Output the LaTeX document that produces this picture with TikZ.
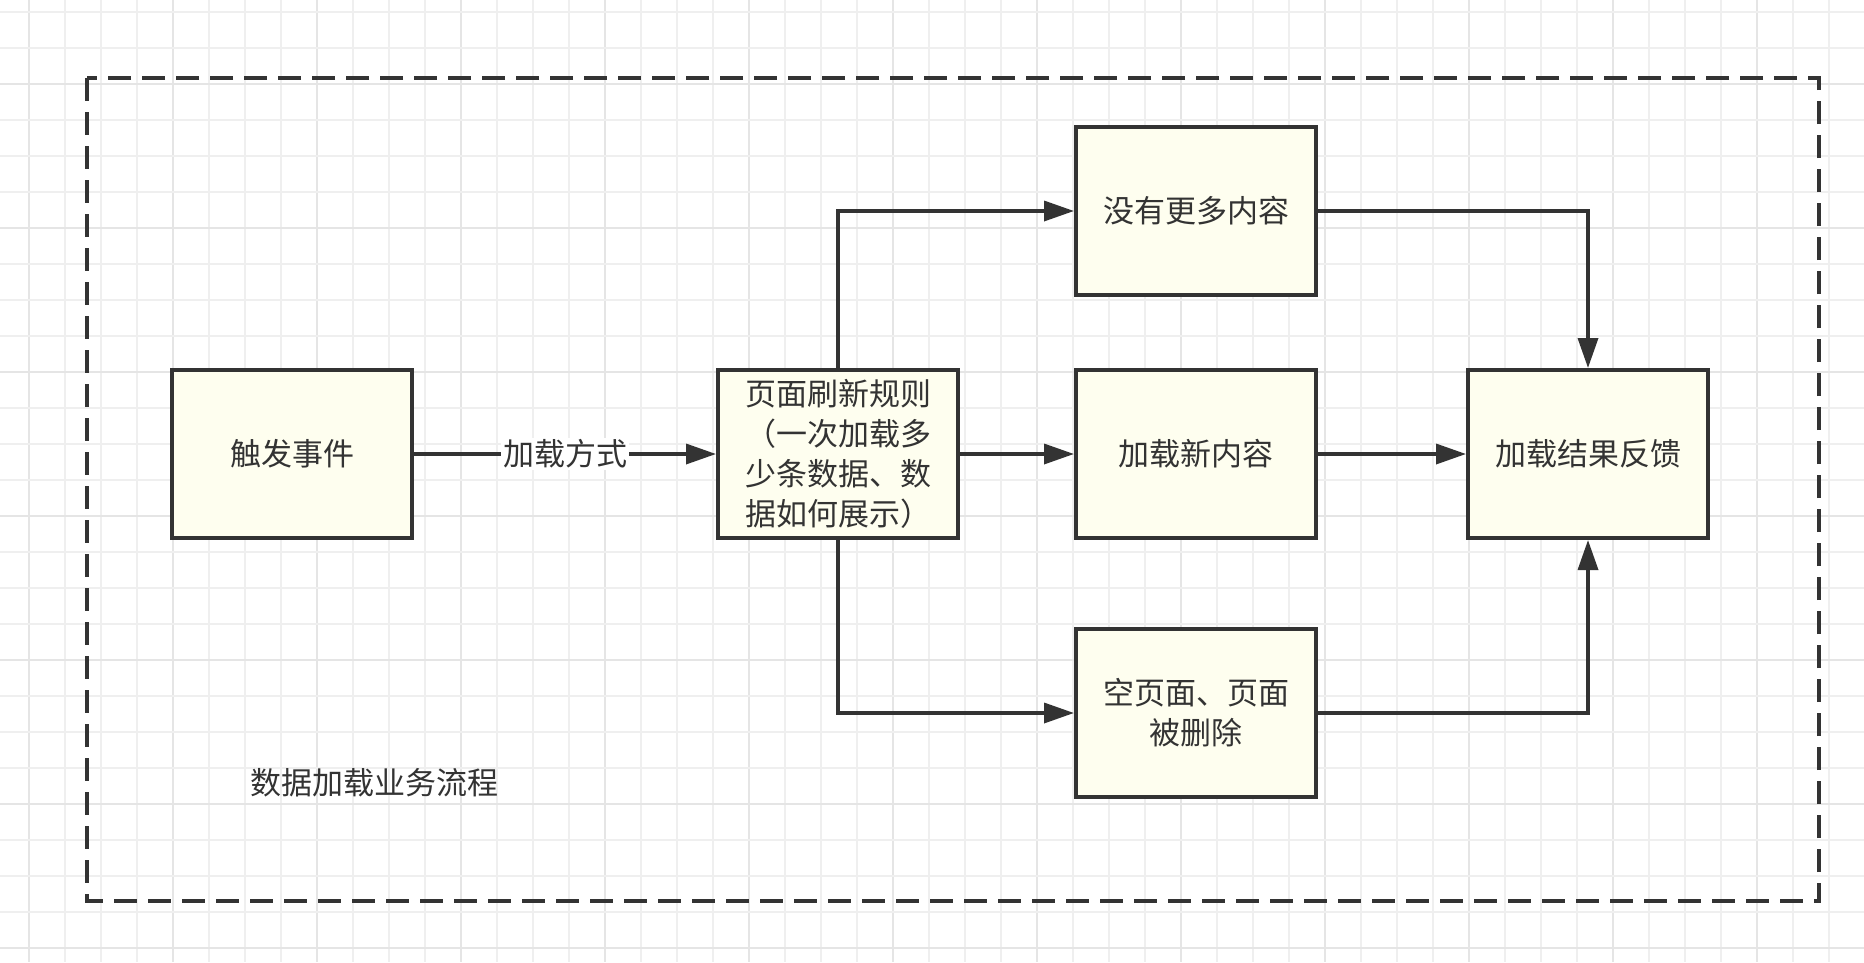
\documentclass[tikz,border=0pt]{standalone}
\usepackage{fontspec}
\newfontfamily\cjk{Noto Sans CJK SC}
\usetikzlibrary{arrows.meta}
\definecolor{ink}{HTML}{333333}
\definecolor{boxfill}{HTML}{FEFEEF}
\definecolor{gridminor}{HTML}{EFEFEF}
\definecolor{gridmajor}{HTML}{E5E5E5}
\tikzset{
  box/.style={draw=ink, line width=4pt, fill=boxfill, minimum width=240pt, minimum height=168pt,
    align=center, text=ink, font=\cjk\fontsize{31pt}{40pt}\selectfont, inner sep=0pt},
  arr/.style={draw=ink, line width=3.5pt, -{Triangle[length=30pt,width=20pt]}},
  lbl/.style={fill=white, text=ink, font=\cjk\fontsize{31pt}{40pt}\selectfont, inner sep=2pt},
  frame/.style={draw=ink, line width=4pt, dash pattern=on 23pt off 11pt},
}
\begin{document}
\begin{tikzpicture}[x=1pt,y=-1pt]
\useasboundingbox (0,0) rectangle (1864,962);
\fill[white] (0,0) rectangle (1864,962);
\foreach \k in {0,...,51} {
  \pgfmathtruncatemacro{\m}{mod(\k,4)}
  \ifnum\m=0 \draw[gridmajor, line width=2pt] ({29+36*\k},0) -- ({29+36*\k},962);
  \else \draw[gridminor, line width=1.8pt] ({29+36*\k},0) -- ({29+36*\k},962); \fi
}
\foreach \k in {0,...,26} {
  \pgfmathtruncatemacro{\m}{mod(\k,4)}
  \ifnum\m=2 \draw[gridmajor, line width=2pt] (0,{12+36*\k}) -- (1864,{12+36*\k});
  \else \draw[gridminor, line width=1.8pt] (0,{12+36*\k}) -- (1864,{12+36*\k}); \fi
}
\draw[frame] (87,78) rectangle (1819,901);

\node[box] (t) at (292,454) {触发事件};
\node[box] (p) at (838,454) {页面刷新规则\\（一次加载多\\少条数据、数\\据如何展示）};
\node[box] (a) at (1196,211) {没有更多内容};
\node[box] (b) at (1196,454) {加载新内容};
\node[box] (c) at (1196,713) {空页面、页面\\被删除};
\node[box] (r) at (1588,454) {加载结果反馈};

\node[text=ink, font=\cjk\fontsize{31pt}{40pt}\selectfont] (title) at (374,783) {数据加载业务流程};

\draw[arr] (t.east) -- node[lbl] (m) {加载方式} (p.west);
\draw[arr] (p.north) |- (a.west);
\draw[arr] (p.east) -- (b.west);
\draw[arr] (p.south) |- (c.west);
\draw[arr] (a.east) -| (r.north);
\draw[arr] (b.east) -- (r.west);
\draw[arr] (c.east) -| (r.south);
\end{tikzpicture}
\end{document}
